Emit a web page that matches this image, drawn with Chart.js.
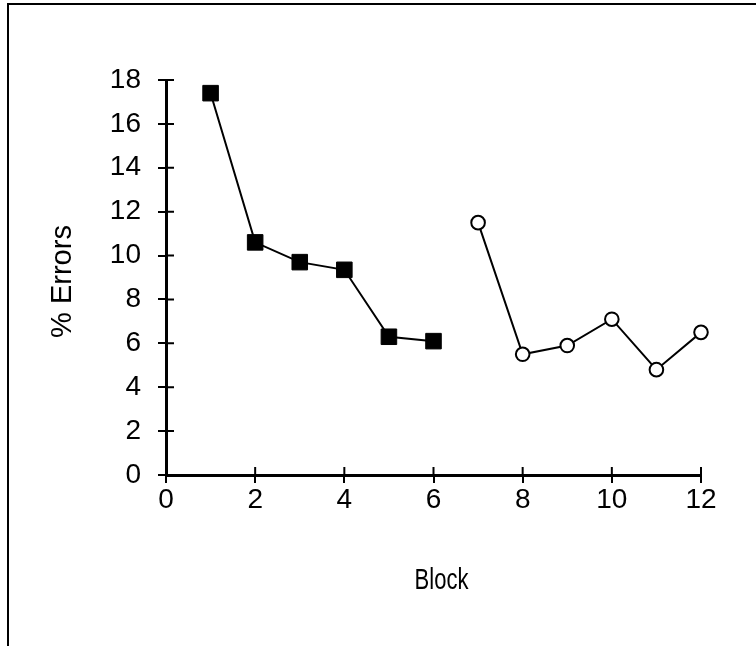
<!DOCTYPE html>
<html>
<head>
<meta charset="utf-8">
<script src="https://cdn.jsdelivr.net/npm/chart.js@4"></script>
<style>
  html, body { margin: 0; padding: 0; background: #fff; }
  #wrap { position: relative; width: 756px; height: 646px; }
  #c { position: absolute; left: 0; top: 0; }
  #frame { position: absolute; left: 7px; top: 3px; width: 749px; height: 643px;
           border-top: 2px solid #000; border-left: 2px solid #000; box-sizing: border-box; pointer-events: none; }
</style>
</head>
<body>
<div id="wrap">
  <canvas id="c" width="756" height="646"></canvas>
  <div id="frame"></div>
</div>
<script>
// Data
const blocksA = [1, 2, 3, 4, 5, 6];
const errorsA = [17.4, 10.6, 9.7, 9.35, 6.3, 6.1];
const blocksB = [7, 8, 9, 10, 11, 12];
const errorsB = [11.5, 5.5, 5.9, 7.1, 4.8, 6.5];
const xTicks = [0, 2, 4, 6, 8, 10, 12];
const yTicks = [0, 2, 4, 6, 8, 10, 12, 14, 16, 18];
const xTitle = 'Block';
const yTitle = '% Errors';

const FONT = "'Liberation Sans', Arial, Helvetica, sans-serif";

const extras = {
  id: 'extras',
  afterDraw(chart) {
    const ctx = chart.ctx;
    const xs = chart.scales.x, ys = chart.scales.y;
    const ca = chart.chartArea;
    ctx.save();
    ctx.strokeStyle = '#000';
    ctx.lineWidth = 2;
    ctx.beginPath();
    xs.ticks.forEach((t, i) => {
      const px = xs.getPixelForTick(i);
      ctx.moveTo(px, ca.bottom);
      ctx.lineTo(px, ca.bottom - 8);
    });
    ys.ticks.forEach((t, i) => {
      const py = ys.getPixelForTick(i);
      ctx.moveTo(ca.left, py);
      ctx.lineTo(ca.left + 8, py);
    });
    ctx.stroke();
    // axis titles
    ctx.fillStyle = '#000';
    ctx.textAlign = 'center';
    ctx.textBaseline = 'middle';
    ctx.save();
    ctx.translate((ca.left + ca.right) / 2 + 8, 581);
    ctx.scale(0.76, 1);
    ctx.font = '29px ' + FONT;
    ctx.fillText(xTitle, 0, 0);
    ctx.restore();
    ctx.translate(63, (ca.top + ca.bottom) / 2 + 4);
    ctx.rotate(-Math.PI / 2);
    ctx.font = '29px ' + FONT;
    ctx.fillText(yTitle, 0, 0);
    ctx.restore();
  }
};

const toPts = (xs, ys) => xs.map((x, i) => ({ x: x, y: ys[i] }));

new Chart(document.getElementById('c'), {
  type: 'scatter',
  data: {
    datasets: [
      {
        data: toPts(blocksA, errorsA),
        showLine: true,
        clip: false,
        borderColor: '#000',
        borderWidth: 2,
        pointStyle: 'rect',
        pointRadius: 11,
        pointBackgroundColor: '#000',
        pointBorderColor: '#000',
        pointBorderWidth: 1,
        tension: 0
      },
      {
        data: toPts(blocksB, errorsB),
        showLine: true,
        clip: false,
        borderColor: '#000',
        borderWidth: 2,
        pointStyle: 'circle',
        pointRadius: 6.8,
        pointBackgroundColor: '#fff',
        pointBorderColor: '#000',
        pointBorderWidth: 2,
        tension: 0
      }
    ]
  },
  options: {
    responsive: false,
    animation: false,
    devicePixelRatio: 1,
    layout: { padding: { top: 80, right: 55, bottom: 0, left: 8 } },
    plugins: { legend: { display: false }, tooltip: { enabled: false } },
    scales: {
      x: {
        type: 'linear',
        min: 0, max: 12,
        afterBuildTicks: (s) => { s.ticks = xTicks.map(v => ({ value: v })); },
        afterFit: (s) => { s.height = 646 - 475; },
        ticks: { color: '#000', font: { family: FONT, size: 28 }, padding: 0, maxRotation: 0 },
        grid: { display: true, drawOnChartArea: false, drawTicks: true, tickLength: 8, color: '#000', lineWidth: 2 },
        border: { display: true, color: '#000', width: 3 },
        title: { display: false }
      },
      y: {
        type: 'linear',
        min: 0, max: 18,
        afterBuildTicks: (s) => { s.ticks = yTicks.map(v => ({ value: v })); },
        afterFit: (s) => { s.width = 166 - 8; },
        ticks: { color: '#000', font: { family: FONT, size: 28 }, padding: 17 },
        grid: { display: true, drawOnChartArea: false, drawTicks: true, tickLength: 8, color: '#000', lineWidth: 2 },
        border: { display: true, color: '#000', width: 3 },
        title: { display: false }
      }
    }
  },
  plugins: [extras]
});
</script>
</body>
</html>
